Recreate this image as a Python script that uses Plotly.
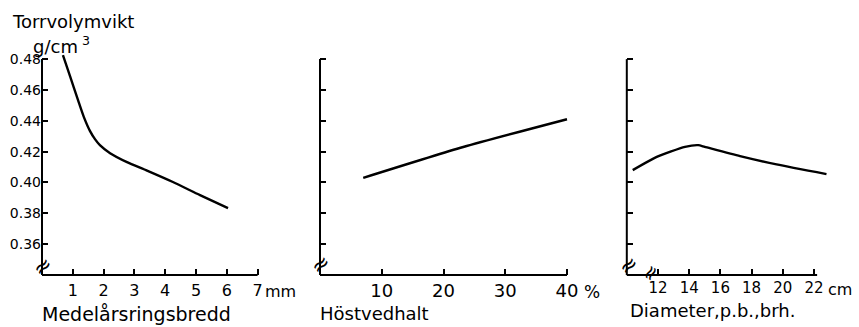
import plotly.graph_objects as go

# --- data -------------------------------------------------------------
# Panel 1: mean annual ring width (mm) vs. dry density
ring_width_mm = [0.68, 0.91, 1.17, 1.36, 1.56, 1.72, 1.88, 2.21, 2.76, 3.41, 4.25, 5.13, 6.04]
density_ring = [0.4826, 0.4690, 0.4534, 0.4424, 0.4333, 0.4281, 0.4242, 0.4190,
                0.4132, 0.4077, 0.4003, 0.3918, 0.3834]

# Panel 2: latewood content (%) vs. dry density
latewood_pct = [7.0, 23.2, 40.0]
density_latewood = [0.403, 0.423, 0.441]

# Panel 3: diameter at breast height (cm) vs. dry density
diameter_cm = [10.38, 11.92, 13.73, 14.58, 15.0, 17.26, 19.6, 22.8]
density_diam = [0.408, 0.4166, 0.4231, 0.4242, 0.4231, 0.4171, 0.4117, 0.4054]

y_ticks = [0.36, 0.38, 0.40, 0.42, 0.44, 0.46, 0.48]
y_ticktext = ["0.36", "0.38", "0.40", "0.42", "0.44", "0.46", "0.48"]
x1_ticks = [1, 2, 3, 4, 5, 6, 7]
x2_ticks = [10, 20, 30, 40]
x3_ticks = [12, 14, 16, 18, 20, 22]

# --- layout geometry (pixels) ----------------------------------------
W, H = 859, 327
FONT = "DejaVu Sans"
Y_RANGE = [0.34, 0.49]
Y_TOP_VAL = 0.48
y_px_bottom, y_px_per_unit = 275, 1542
y_dom = [1 - y_px_bottom / H,
         1 - (y_px_bottom - (Y_RANGE[1] - Y_RANGE[0]) * y_px_per_unit) / H]

panels = [
    # x range, left px of range start, px per unit, axis-line end value
    dict(rng=[0, 7.1], left=42, ppu=30.8, xend=7),
    dict(rng=[0, 40.5], left=320, ppu=6.175, xend=40),
    dict(rng=[10, 23.2], left=626.8, ppu=15.6, xend=22.2),
]


def ax_id(letter, i):
    return letter if i == 1 else f"{letter}{i}"


fig = go.Figure()

series = [(ring_width_mm, density_ring), (latewood_pct, density_latewood),
          (diameter_cm, density_diam)]
for i, (xs, ys) in enumerate(series, start=1):
    fig.add_trace(go.Scatter(
        x=xs, y=ys, mode="lines",
        line=dict(color="black", width=2.4, shape="spline", smoothing=0.6),
        xaxis=ax_id("x", i), yaxis=ax_id("y", i), showlegend=False, hoverinfo="skip"))

layout = dict(
    template="none",
    width=W, height=H, autosize=False,
    margin=dict(l=0, r=0, t=0, b=0, pad=0),
    paper_bgcolor="white", plot_bgcolor="white",
    font=dict(family=FONT, color="black"),
    showlegend=False,
)

x_tick_sets = [x1_ticks, x2_ticks, x3_ticks]
x_tick_sizes = [16, 18, 15]
x_tick_standoff = [4, 3, 2]
shapes = []
for i, p in enumerate(panels, start=1):
    x0 = p["left"]
    x1 = x0 + (p["rng"][1] - p["rng"][0]) * p["ppu"]
    suffix = "" if i == 1 else str(i)
    layout[f"xaxis{suffix}"] = dict(
        domain=[x0 / W, x1 / W], range=p["rng"], anchor=ax_id("y", i),
        automargin=False, showgrid=False, zeroline=False, showline=False,
        ticks="inside", ticklen=6, tickwidth=2, tickcolor="black",
        tickvals=x_tick_sets[i - 1],
        tickfont=dict(size=x_tick_sizes[i - 1], family=FONT, color="black"),
        ticklabelstandoff=x_tick_standoff[i - 1],
    )
    layout[f"yaxis{suffix}"] = dict(
        domain=y_dom, range=Y_RANGE, anchor=ax_id("x", i),
        automargin=False, showgrid=False, zeroline=False, showline=False,
        ticks="inside", ticklen=6, tickwidth=2, tickcolor="black",
        tickvals=y_ticks, ticktext=y_ticktext,
        showticklabels=(i == 1),
        tickfont=dict(size=14, family=FONT, color="black"),
    )
    # axis lines: y from the top tick down to the x axis, x from origin to its end
    ytop_frac = (Y_TOP_VAL - Y_RANGE[0]) / (Y_RANGE[1] - Y_RANGE[0])
    xend_frac = (p["xend"] - p["rng"][0]) / (p["rng"][1] - p["rng"][0])
    xr, yr = ax_id("x", i) + " domain", ax_id("y", i) + " domain"
    shapes.append(dict(type="line", xref=xr, yref=yr,
                       x0=0, x1=0, y0=0, y1=ytop_frac,
                       line=dict(color="black", width=2)))
    shapes.append(dict(type="line", xref=xr, yref=yr,
                       x0=0, x1=xend_frac, y0=0, y1=0,
                       line=dict(color="black", width=2)))

layout["shapes"] = shapes


def ann(text, px, py, size, xanchor="left", yanchor="middle", angle=0):
    return dict(text=text, x=px / W, y=1 - py / H, xref="paper", yref="paper",
                xanchor=xanchor, yanchor=yanchor, showarrow=False,
                textangle=angle, font=dict(family=FONT, size=size, color="black"))


annotations = [
    ann("Torrvolymvikt", 10, 21, 18),
    ann("g/cm<sup> 3</sup>", 31, 45, 18),
    ann("Medelårsringsbredd", 40, 314, 19),
    ann("Höstvedhalt", 318, 313, 18),
    ann("Diameter,p.b.,brh.", 628, 310, 18),
    ann("mm", 263, 291, 16),
    ann("%", 582, 292, 17),
    ann("cm", 826, 289, 16),
    # axis break marks
    ann("≈", 42, 266, 22, xanchor="center", angle=-40),
    ann("≈", 320, 264, 22, xanchor="center", angle=-40),
    ann("≈", 628, 265, 22, xanchor="center", angle=-40),
    ann("≈", 650, 273, 20, xanchor="center", angle=-60),
]
layout["annotations"] = annotations

fig.update_layout(**layout)
fig.write_html("out.html")
